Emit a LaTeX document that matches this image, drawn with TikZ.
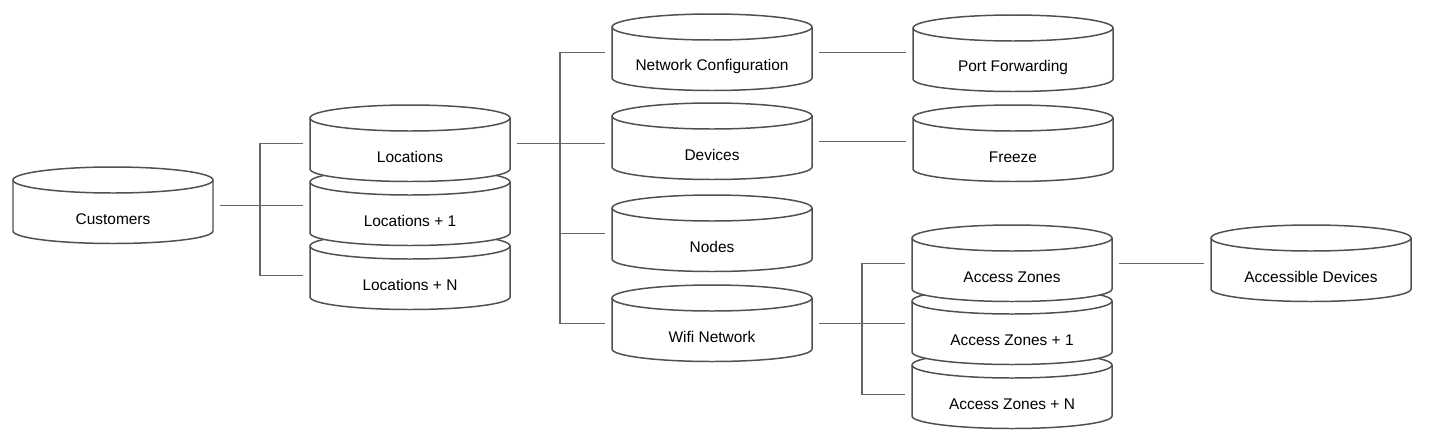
\documentclass[tikz,border=0pt]{standalone}
\usepackage{fontspec}
\setmainfont{Liberation Sans}
\usetikzlibrary{calc}
\definecolor{cylcol}{HTML}{505050}
\definecolor{conncol}{HTML}{666666}
\tikzset{
  cylshape/.style={draw=cylcol, line width=0.85pt, fill=white},
  cylfront/.style={draw=cylcol, line width=0.85pt},
  conn/.style={draw=conncol, line width=1pt},
  cyltext/.style={font=\fontsize{8.8}{10}\selectfont, inner sep=0pt, text=black},
}
\newcommand\dbcyl[4]{%
  \filldraw[cylshape] ({#2-100},{#3+13}) -- ({#2-100},{#3+64})
    arc[start angle=180,end angle=0,x radius=100,y radius=12.5]
    -- ({#2+100},{#3+13})
    arc[start angle=0,end angle=-180,x radius=100,y radius=13] -- cycle;
  \draw[cylfront] ({#2-100},{#3+13}) arc[start angle=180,end angle=0,x radius=100,y radius=13];
  \node[cyltext] (#1) at (#2,{#3+52}) {#4};
  \coordinate (#1-w) at ({#2-107},{#3+38.5});
  \coordinate (#1-e) at ({#2+107},{#3+38.5});
}
\begin{document}
\begin{tikzpicture}[x=0.02cm,y=-0.02cm]
\useasboundingbox (0,0) rectangle (1430,443);
% cylinders (lower ones of a stack first)
\dbcyl{cust}{113}{167}{Customers}
\dbcyl{locN}{410}{233}{Locations + N}
\dbcyl{loc1}{410}{169}{Locations + 1}
\dbcyl{loc}{410}{105}{Locations}
\dbcyl{net}{712}{14}{Network Configuration}
\dbcyl{dev}{712}{103}{Devices}
\dbcyl{nodes}{712}{195}{Nodes}
\dbcyl{wifi}{712}{285}{Wifi Network}
\dbcyl{pf}{1013}{15}{Port Forwarding}
\dbcyl{frz}{1013}{105}{Freeze}
\dbcyl{azN}{1012}{352}{Access Zones + N}
\dbcyl{az1}{1012}{288}{Access Zones + 1}
\dbcyl{az}{1012}{225}{Access Zones}
\dbcyl{acc}{1311}{225}{Accessible Devices}
% bus coordinates
\coordinate (busA) at (260,0);
\coordinate (busB) at (560,0);
\coordinate (busC) at (862,0);
% connectors
\draw[conn] (cust-e) -- (cust-e -| loc1-w);
\draw[conn] (loc-w) -- (loc-w -| busA) -- ($(locN-w -| busA)+(0,4)$) -- ($(locN-w)+(0,4)$);
\draw[conn] (loc-e) -- (loc-e -| dev-w);
\draw[conn] (net-w) -- (net-w -| busB) -- (wifi-w -| busB) -- (wifi-w);
\draw[conn] (nodes-w -| busB) -- (nodes-w);
\draw[conn] (net-e) -- (net-e -| pf-w);
\draw[conn] (dev-e) -- (dev-e -| frz-w);
\draw[conn] (wifi-e) -- (wifi-e -| az1-w);
\draw[conn] (az-w) -- (az-w -| busC) -- ($(azN-w -| busC)+(0,4)$) -- ($(azN-w)+(0,4)$);
\draw[conn] (az-e) -- (az-e -| acc-w);
\end{tikzpicture}
\end{document}
